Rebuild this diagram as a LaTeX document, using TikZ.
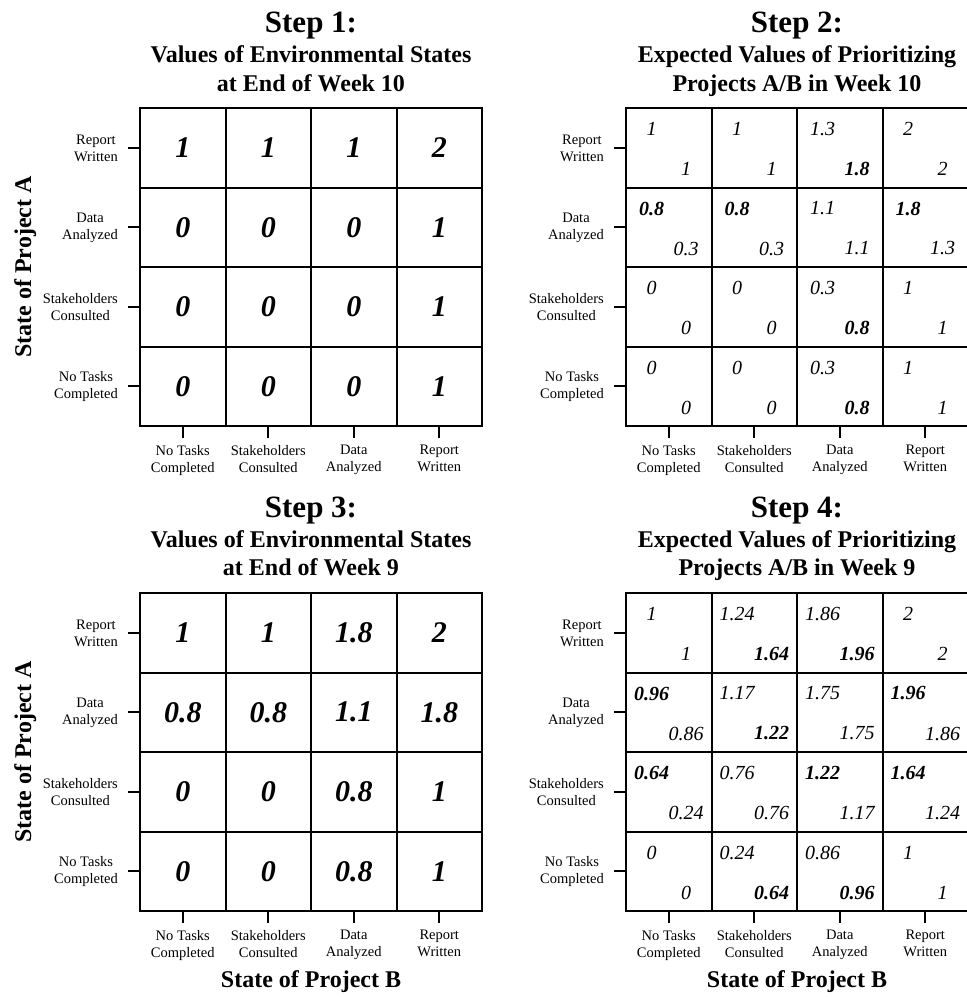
\documentclass[tikz,border=0pt]{standalone}
\usepackage{fontspec}
\setmainfont{Liberation Serif}
\newcommand\bv[1]{\textbf{#1}}
\tikzset{
  gridline/.style={line width=2pt},
  tickline/.style={line width=2pt},
  rowlab/.style={font=\fontsize{14.5}{17}\selectfont, align=center, anchor=east, inner sep=0pt},
  collab/.style={font=\fontsize{14.5}{17}\selectfont, align=center, anchor=north, inner sep=0pt},
  steptitle/.style={font=\fontsize{31}{31}\selectfont\bfseries, anchor=base, inner sep=0pt},
  subtitle/.style={font=\fontsize{24}{29}\selectfont\bfseries, anchor=base, inner sep=0pt},
  axislab/.style={font=\fontsize{24}{29}\selectfont\bfseries, anchor=base, inner sep=0pt},
  bigval/.style={font=\fontsize{30}{30}\selectfont\bfseries\itshape, inner sep=0pt},
  smallval/.style={font=\fontsize{20}{20}\selectfont\itshape, inner sep=0pt},
}
% #1 name prefix, #2 x0, #3 y0
\newcommand\panelframe[3]{%
  \draw[gridline] (#2,#3) rectangle (#2+342,#3+318);
  \foreach \i in {1,2,3} {
    \draw[gridline] ({#2+round(\i*85.5)},#3) -- ({#2+round(\i*85.5)},#3+318);
    \draw[gridline] (#2,{#3+round(\i*79.5)}) -- (#2+342,{#3+round(\i*79.5)});
  }
  \foreach \lab [count=\k from 0] in {{Report\\Written},{Data\\Analyzed},{Stakeholders\\Consulted},{No Tasks\\Completed}} {
    \coordinate (#1rt\k) at (#2-12,#3+\k*79.5+39.75);
    \coordinate (#1rs\k) at (#2,#3+\k*79.5+39.75);
    \draw[tickline] (#1rt\k) -- (#1rs\k);
    \node[rowlab] (#1r\k) at (#2-22,#3+\k*79.5+40) {\lab};
  }
  \foreach \lab [count=\k from 0] in {{No Tasks\\Completed},{Stakeholders\\Consulted},{Data\\Analyzed},{Report\\Written}} {
    \coordinate (#1ct\k) at (#2+\k*85.5+42.75,#3+318);
    \coordinate (#1cs\k) at (#2+\k*85.5+42.75,#3+330);
    \draw[tickline] (#1ct\k) -- (#1cs\k);
    \node[collab] (#1c\k) at (#2+\k*85.5+42.75,#3+337) {\lab};
  }
}
% big values: #1 prefix, #2 x0, #3 y0, #4 list of rows
\newcommand\bigvalues[4]{%
  \foreach \vals [count=\r from 0] in {#4} {
    \foreach \v [count=\c from 0] in \vals {
      \node[bigval] (#1v\r\c) at (#2+\c*85.5+42.75,#3+\r*79.5+39.75) {\v};
    }
  }
}
% paired values
\newcommand\pairvalues[4]{%
  \foreach \vals [count=\r from 0] in {#4} {
    \foreach \a/\b [count=\c from 0] in \vals {
      \node[smallval] (#1a\r\c) at (#2+\c*85.5+25.5,#3+\r*79.5+21) {\a};
      \node[smallval] (#1b\r\c) at (#2+\c*85.5+60,#3+\r*79.5+61) {\b};
    }
  }
}
\begin{document}
\begin{tikzpicture}[x=1pt,y=-1pt]
\useasboundingbox (0,0) rectangle (967,997);
\fill[white] (0,0) rectangle (967,997);

% ---------- Step 1 ----------
\node[steptitle] (t1) at (311,32) {Step 1:};
\node[subtitle] (t1a) at (311,62) {Values of Environmental States};
\node[subtitle] (t1b) at (311,91) {at End of Week 10};
\panelframe{pa}{140}{108}
\bigvalues{pa}{140}{108}{{1,1,1,2},{0,0,0,1},{0,0,0,1},{0,0,0,1}}

% ---------- Step 2 ----------
\node[steptitle] (t2) at (797,32) {Step 2:};
\node[subtitle] (t2a) at (797,62) {Expected Values of Prioritizing};
\node[subtitle] (t2b) at (797,91) {Projects A/B in Week 10};
\panelframe{pb}{626}{108}
\pairvalues{pb}{626}{108}{%
  {1/1,1/1,1.3/\bv{1.8},2/2},%
  {\bv{0.8}/0.3,\bv{0.8}/0.3,1.1/1.1,\bv{1.8}/1.3},%
  {0/0,0/0,0.3/\bv{0.8},1/1},%
  {0/0,0/0,0.3/\bv{0.8},1/1}}

% ---------- Step 3 ----------
\node[steptitle] (t3) at (311,517) {Step 3:};
\node[subtitle] (t3a) at (311,547) {Values of Environmental States};
\node[subtitle] (t3b) at (311,575.5) {at End of Week 9};
\panelframe{pc}{140}{593}
\bigvalues{pc}{140}{593}{{1,1,1.8,2},{0.8,0.8,1.1,1.8},{0,0,0.8,1},{0,0,0.8,1}}

% ---------- Step 4 ----------
\node[steptitle] (t4) at (797,517) {Step 4:};
\node[subtitle] (t4a) at (797,547) {Expected Values of Prioritizing};
\node[subtitle] (t4b) at (797,575.5) {Projects A/B in Week 9};
\panelframe{pd}{626}{593}
\pairvalues{pd}{626}{593}{%
  {1/1,1.24/\bv{1.64},1.86/\bv{1.96},2/2},%
  {\bv{0.96}/0.86,1.17/\bv{1.22},1.75/1.75,\bv{1.96}/1.86},%
  {\bv{0.64}/0.24,0.76/0.76,\bv{1.22}/1.17,\bv{1.64}/1.24},%
  {0/0,0.24/\bv{0.64},0.86/\bv{0.96},1/1}}

% ---------- axis labels ----------
\node[axislab, rotate=90] (ya1) at (31,267) {State of Project A};
\node[axislab, rotate=90] (ya2) at (31,752) {State of Project A};
\node[axislab] (xb1) at (311,987) {State of Project B};
\node[axislab] (xb2) at (797,987) {State of Project B};
\end{tikzpicture}
\end{document}
